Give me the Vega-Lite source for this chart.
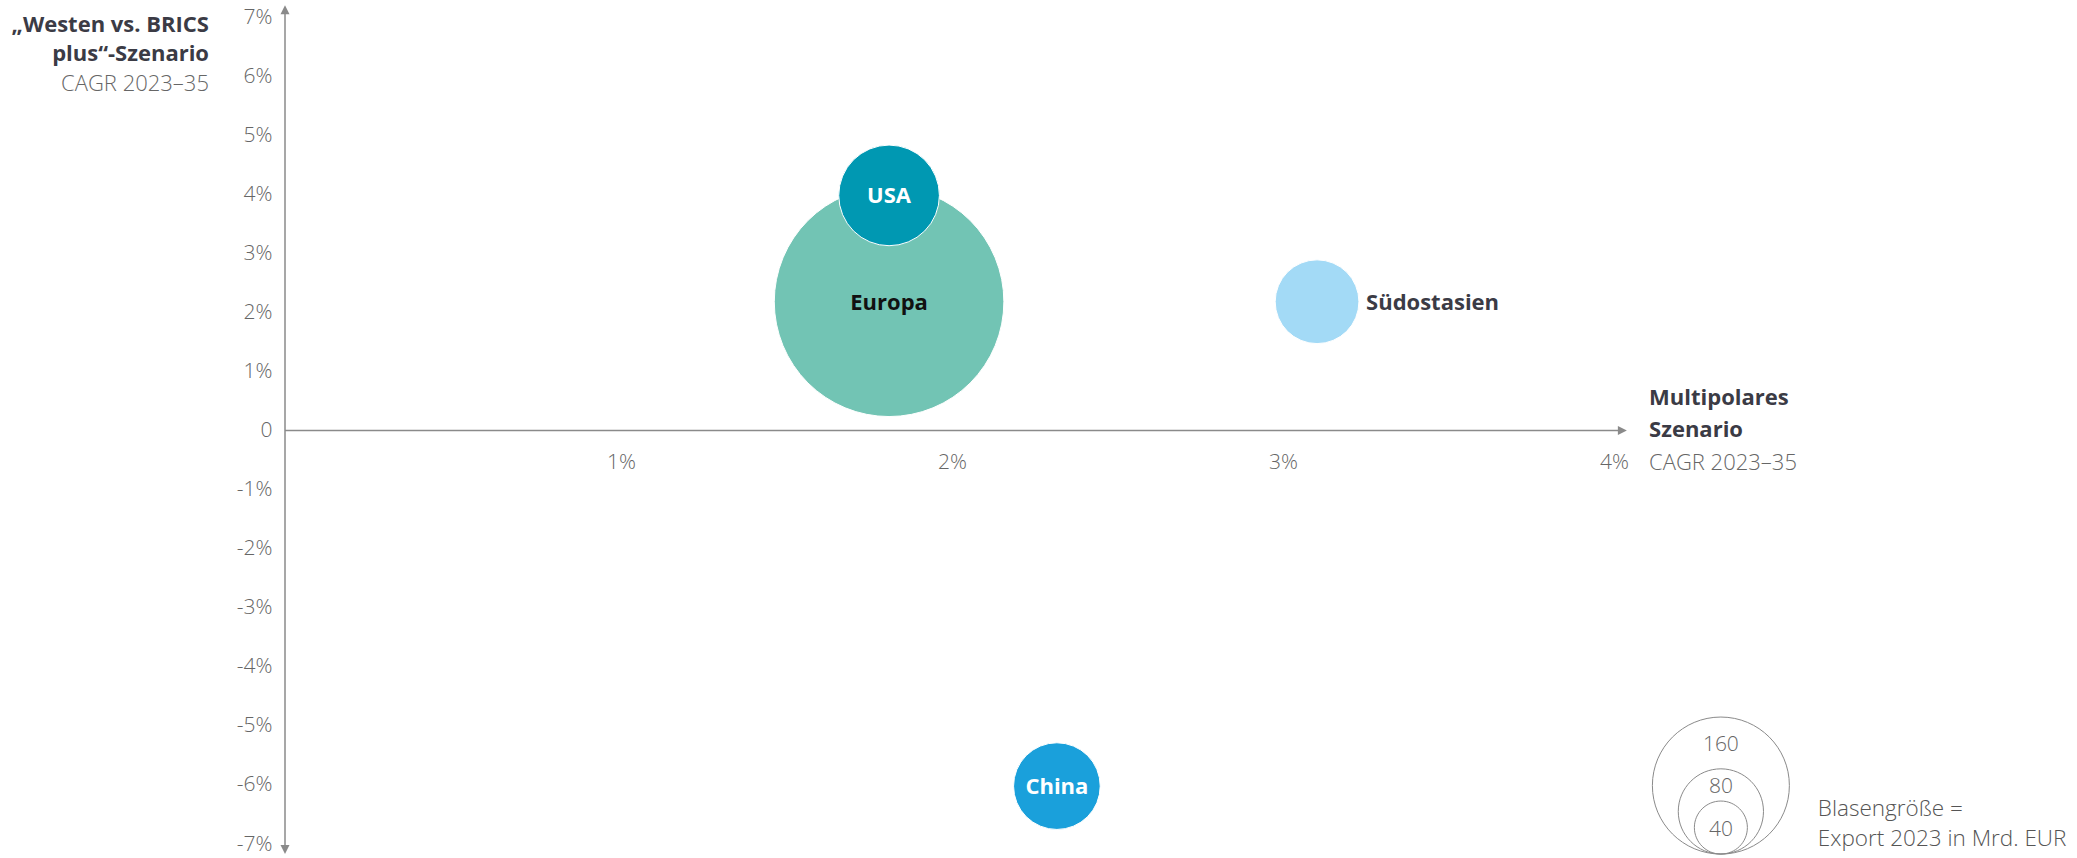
{
  "$schema": "https://vega.github.io/schema/vega-lite/v6.json",
  "width": 1324,
  "height": 827,
  "padding": {"left": 285, "top": 17, "right": 468, "bottom": 14},
  "autosize": {"type": "none"},
  "background": "white",
  "config": {
    "font": "Open Sans",
    "view": {"stroke": null},
    "text": {"font": "Open Sans"}
  },
  "datasets": {
    "regions": [
      {"region": "Europa", "multipolar": 1.825, "westen": 2.18, "export": 340},
      {"region": "Südostasien", "multipolar": 3.118, "westen": 2.18, "export": 78},
      {"region": "China", "multipolar": 2.332, "westen": -6.02, "export": 82},
      {"region": "USA", "multipolar": 1.825, "westen": 3.98, "export": 102}
    ],
    "legend": [
      {"export": 160},
      {"export": 80},
      {"export": 40}
    ],
    "one": [{}]
  },
  "layer": [
    {
      "data": {"name": "one"},
      "mark": {"type": "rule", "color": "#8a8a8a", "strokeWidth": 1.5},
      "encoding": {
        "x": {"datum": 0, "type": "quantitative"},
        "y": {"datum": -7.05, "type": "quantitative"},
        "y2": {"datum": 7.1}
      }
    },
    {
      "data": {"name": "one"},
      "mark": {"type": "rule", "color": "#8a8a8a", "strokeWidth": 1.5},
      "encoding": {
        "x": {"datum": 0, "type": "quantitative"},
        "x2": {"datum": 4.03},
        "y": {"datum": 0, "type": "quantitative"}
      }
    },
    {
      "data": {"name": "one"},
      "mark": {"type": "point", "shape": "M0,0L-1,2L1,2Z", "filled": true, "color": "#8a8a8a", "opacity": 1, "size": 81, "strokeWidth": 0},
      "encoding": {"x": {"datum": 0, "type": "quantitative"}, "y": {"datum": 7.2, "type": "quantitative"}}
    },
    {
      "data": {"name": "one"},
      "mark": {"type": "point", "shape": "M0,0L-1,-2L1,-2Z", "filled": true, "color": "#8a8a8a", "opacity": 1, "size": 81, "strokeWidth": 0},
      "encoding": {"x": {"datum": 0, "type": "quantitative"}, "y": {"datum": -7.17, "type": "quantitative"}}
    },
    {
      "data": {"name": "one"},
      "mark": {"type": "point", "shape": "M0,0L-2,-1L-2,1Z", "filled": true, "color": "#8a8a8a", "opacity": 1, "size": 81, "strokeWidth": 0},
      "encoding": {"x": {"datum": 4.054, "type": "quantitative"}, "y": {"datum": 0, "type": "quantitative"}}
    },
    {
      "data": {"name": "regions"},
      "mark": {"type": "point", "shape": "circle", "filled": true, "opacity": 1, "stroke": "white", "strokeWidth": 1},
      "encoding": {
        "x": {
          "field": "multipolar", "type": "quantitative",
          "scale": {"domain": [0, 4], "nice": false, "zero": false},
          "axis": {
            "orient": "bottom", "offset": -413.5, "values": [1, 2, 3, 4],
            "domain": false, "ticks": false, "tickSize": 0, "grid": false, "title": null,
            "labelFlush": false, "labelOverlap": false,
            "labelExpr": "datum.value + '%'", "labelFont": "Open Sans", "labelFontSize": 21,
            "labelFontWeight": 300, "labelColor": "#666666", "labelPadding": 21, "labelOffset": 5
          }
        },
        "y": {
          "field": "westen", "type": "quantitative",
          "scale": {"domain": [-7, 7], "nice": false, "zero": false},
          "axis": {
            "orient": "left", "values": [-7, -6, -5, -4, -3, -2, -1, 0, 1, 2, 3, 4, 5, 6, 7],
            "domain": false, "ticks": false, "tickSize": 0, "grid": false, "title": null,
            "labelFlush": false, "labelOverlap": false,
            "labelExpr": "datum.value == 0 ? '0' : datum.value + '%'", "labelFont": "Open Sans", "labelFontSize": 21,
            "labelFontWeight": 300, "labelColor": "#666666", "labelPadding": 13
          }
        },
        "size": {
          "field": "export", "type": "quantitative",
          "scale": {"type": "pow", "exponent": 1.37, "domain": [0, 160], "range": [0, 18769], "zero": true, "clamp": false},
          "legend": null
        },
        "color": {
          "field": "region", "type": "nominal",
          "scale": {"domain": ["Europa", "Südostasien", "China", "USA"], "range": ["#72C4B4", "#A3DAF6", "#1AA0DB", "#0098B2"]},
          "legend": null
        },
        "order": {"field": "export", "sort": "descending"}
      }
    },
    {
      "data": {"name": "regions"},
      "transform": [{"filter": "datum.region == 'USA' || datum.region == 'China'"}],
      "mark": {"type": "text", "font": "Open Sans", "fontSize": 22, "fontWeight": "bold", "color": "white", "align": "center", "baseline": "middle", "dy": 1},
      "encoding": {
        "x": {"field": "multipolar", "type": "quantitative"},
        "y": {"field": "westen", "type": "quantitative"},
        "text": {"field": "region"}
      }
    },
    {
      "data": {"name": "regions"},
      "transform": [{"filter": "datum.region == 'Europa'"}],
      "mark": {"type": "text", "font": "Open Sans", "fontSize": 22, "fontWeight": "bold", "color": "#111111", "align": "center", "baseline": "middle", "dy": 1},
      "encoding": {
        "x": {"field": "multipolar", "type": "quantitative"},
        "y": {"field": "westen", "type": "quantitative"},
        "text": {"field": "region"}
      }
    },
    {
      "data": {"name": "regions"},
      "transform": [{"filter": "datum.region == 'Südostasien'"}],
      "mark": {"type": "text", "font": "Open Sans", "fontSize": 22, "fontWeight": "bold", "color": "#3b3b45", "align": "left", "baseline": "middle", "dx": 49, "dy": 1},
      "encoding": {
        "x": {"field": "multipolar", "type": "quantitative"},
        "y": {"field": "westen", "type": "quantitative"},
        "text": {"field": "region"}
      }
    },
    {
      "data": {"name": "legend"},
      "mark": {"type": "point", "shape": "M0,0A1,1,0,1,1,0,-2A1,1,0,1,1,0,0Z", "filled": false, "stroke": "#8a8a8a", "strokeWidth": 1, "opacity": 1, "fill": null},
      "encoding": {
        "x": {"datum": 4.338, "type": "quantitative"},
        "y": {"datum": -7.17, "type": "quantitative"},
        "size": {
          "field": "export", "type": "quantitative",
          "scale": {"type": "pow", "exponent": 1.37, "domain": [0, 160], "range": [0, 18769], "zero": true, "clamp": false},
          "legend": null
        }
      }
    },
    {
      "data": {"name": "one"},
      "mark": {"type": "text", "text": "160", "font": "Open Sans", "fontSize": 21, "fontWeight": 300, "color": "#666666", "align": "center", "baseline": "middle"},
      "encoding": {"x": {"datum": 4.338, "type": "quantitative"}, "y": {"datum": -5.32, "type": "quantitative"}}
    },
    {
      "data": {"name": "one"},
      "mark": {"type": "text", "text": "80", "font": "Open Sans", "fontSize": 21, "fontWeight": 300, "color": "#666666", "align": "center", "baseline": "middle"},
      "encoding": {"x": {"datum": 4.338, "type": "quantitative"}, "y": {"datum": -6.04, "type": "quantitative"}}
    },
    {
      "data": {"name": "one"},
      "mark": {"type": "text", "text": "40", "font": "Open Sans", "fontSize": 21, "fontWeight": 300, "color": "#666666", "align": "center", "baseline": "middle"},
      "encoding": {"x": {"datum": 4.338, "type": "quantitative"}, "y": {"datum": -6.76, "type": "quantitative"}}
    },
    {
      "data": {"name": "one"},
      "mark": {"type": "text", "text": ["Blasengröße =", "Export 2023 in Mrd. EUR"], "lineHeight": 30, "font": "Open Sans", "fontSize": 22.5, "fontWeight": 300, "color": "#555555", "align": "left", "baseline": "middle"},
      "encoding": {"x": {"datum": 4.631, "type": "quantitative"}, "y": {"datum": -6.4, "type": "quantitative"}}
    },
    {
      "data": {"name": "one"},
      "mark": {"type": "text", "text": ["„Westen vs. BRICS", "plus“-Szenario"], "lineHeight": 29, "font": "Open Sans", "fontSize": 22, "fontWeight": "bold", "color": "#3b3b45", "align": "right", "baseline": "middle"},
      "encoding": {"x": {"datum": -0.2296, "type": "quantitative"}, "y": {"datum": 6.864, "type": "quantitative"}}
    },
    {
      "data": {"name": "one"},
      "mark": {"type": "text", "text": "CAGR 2023–35", "font": "Open Sans", "fontSize": 22, "fontWeight": 300, "color": "#666666", "align": "right", "baseline": "middle"},
      "encoding": {"x": {"datum": -0.2296, "type": "quantitative"}, "y": {"datum": 5.866, "type": "quantitative"}}
    },
    {
      "data": {"name": "one"},
      "mark": {"type": "text", "text": ["Multipolares", "Szenario"], "lineHeight": 32, "font": "Open Sans", "fontSize": 22, "fontWeight": "bold", "color": "#3b3b45", "align": "left", "baseline": "middle"},
      "encoding": {"x": {"datum": 4.121, "type": "quantitative"}, "y": {"datum": 0.55, "type": "quantitative"}}
    },
    {
      "data": {"name": "one"},
      "mark": {"type": "text", "text": "CAGR 2023–35", "font": "Open Sans", "fontSize": 22, "fontWeight": 300, "color": "#666666", "align": "left", "baseline": "middle"},
      "encoding": {"x": {"datum": 4.121, "type": "quantitative"}, "y": {"datum": -0.55, "type": "quantitative"}}
    }
  ]
}
